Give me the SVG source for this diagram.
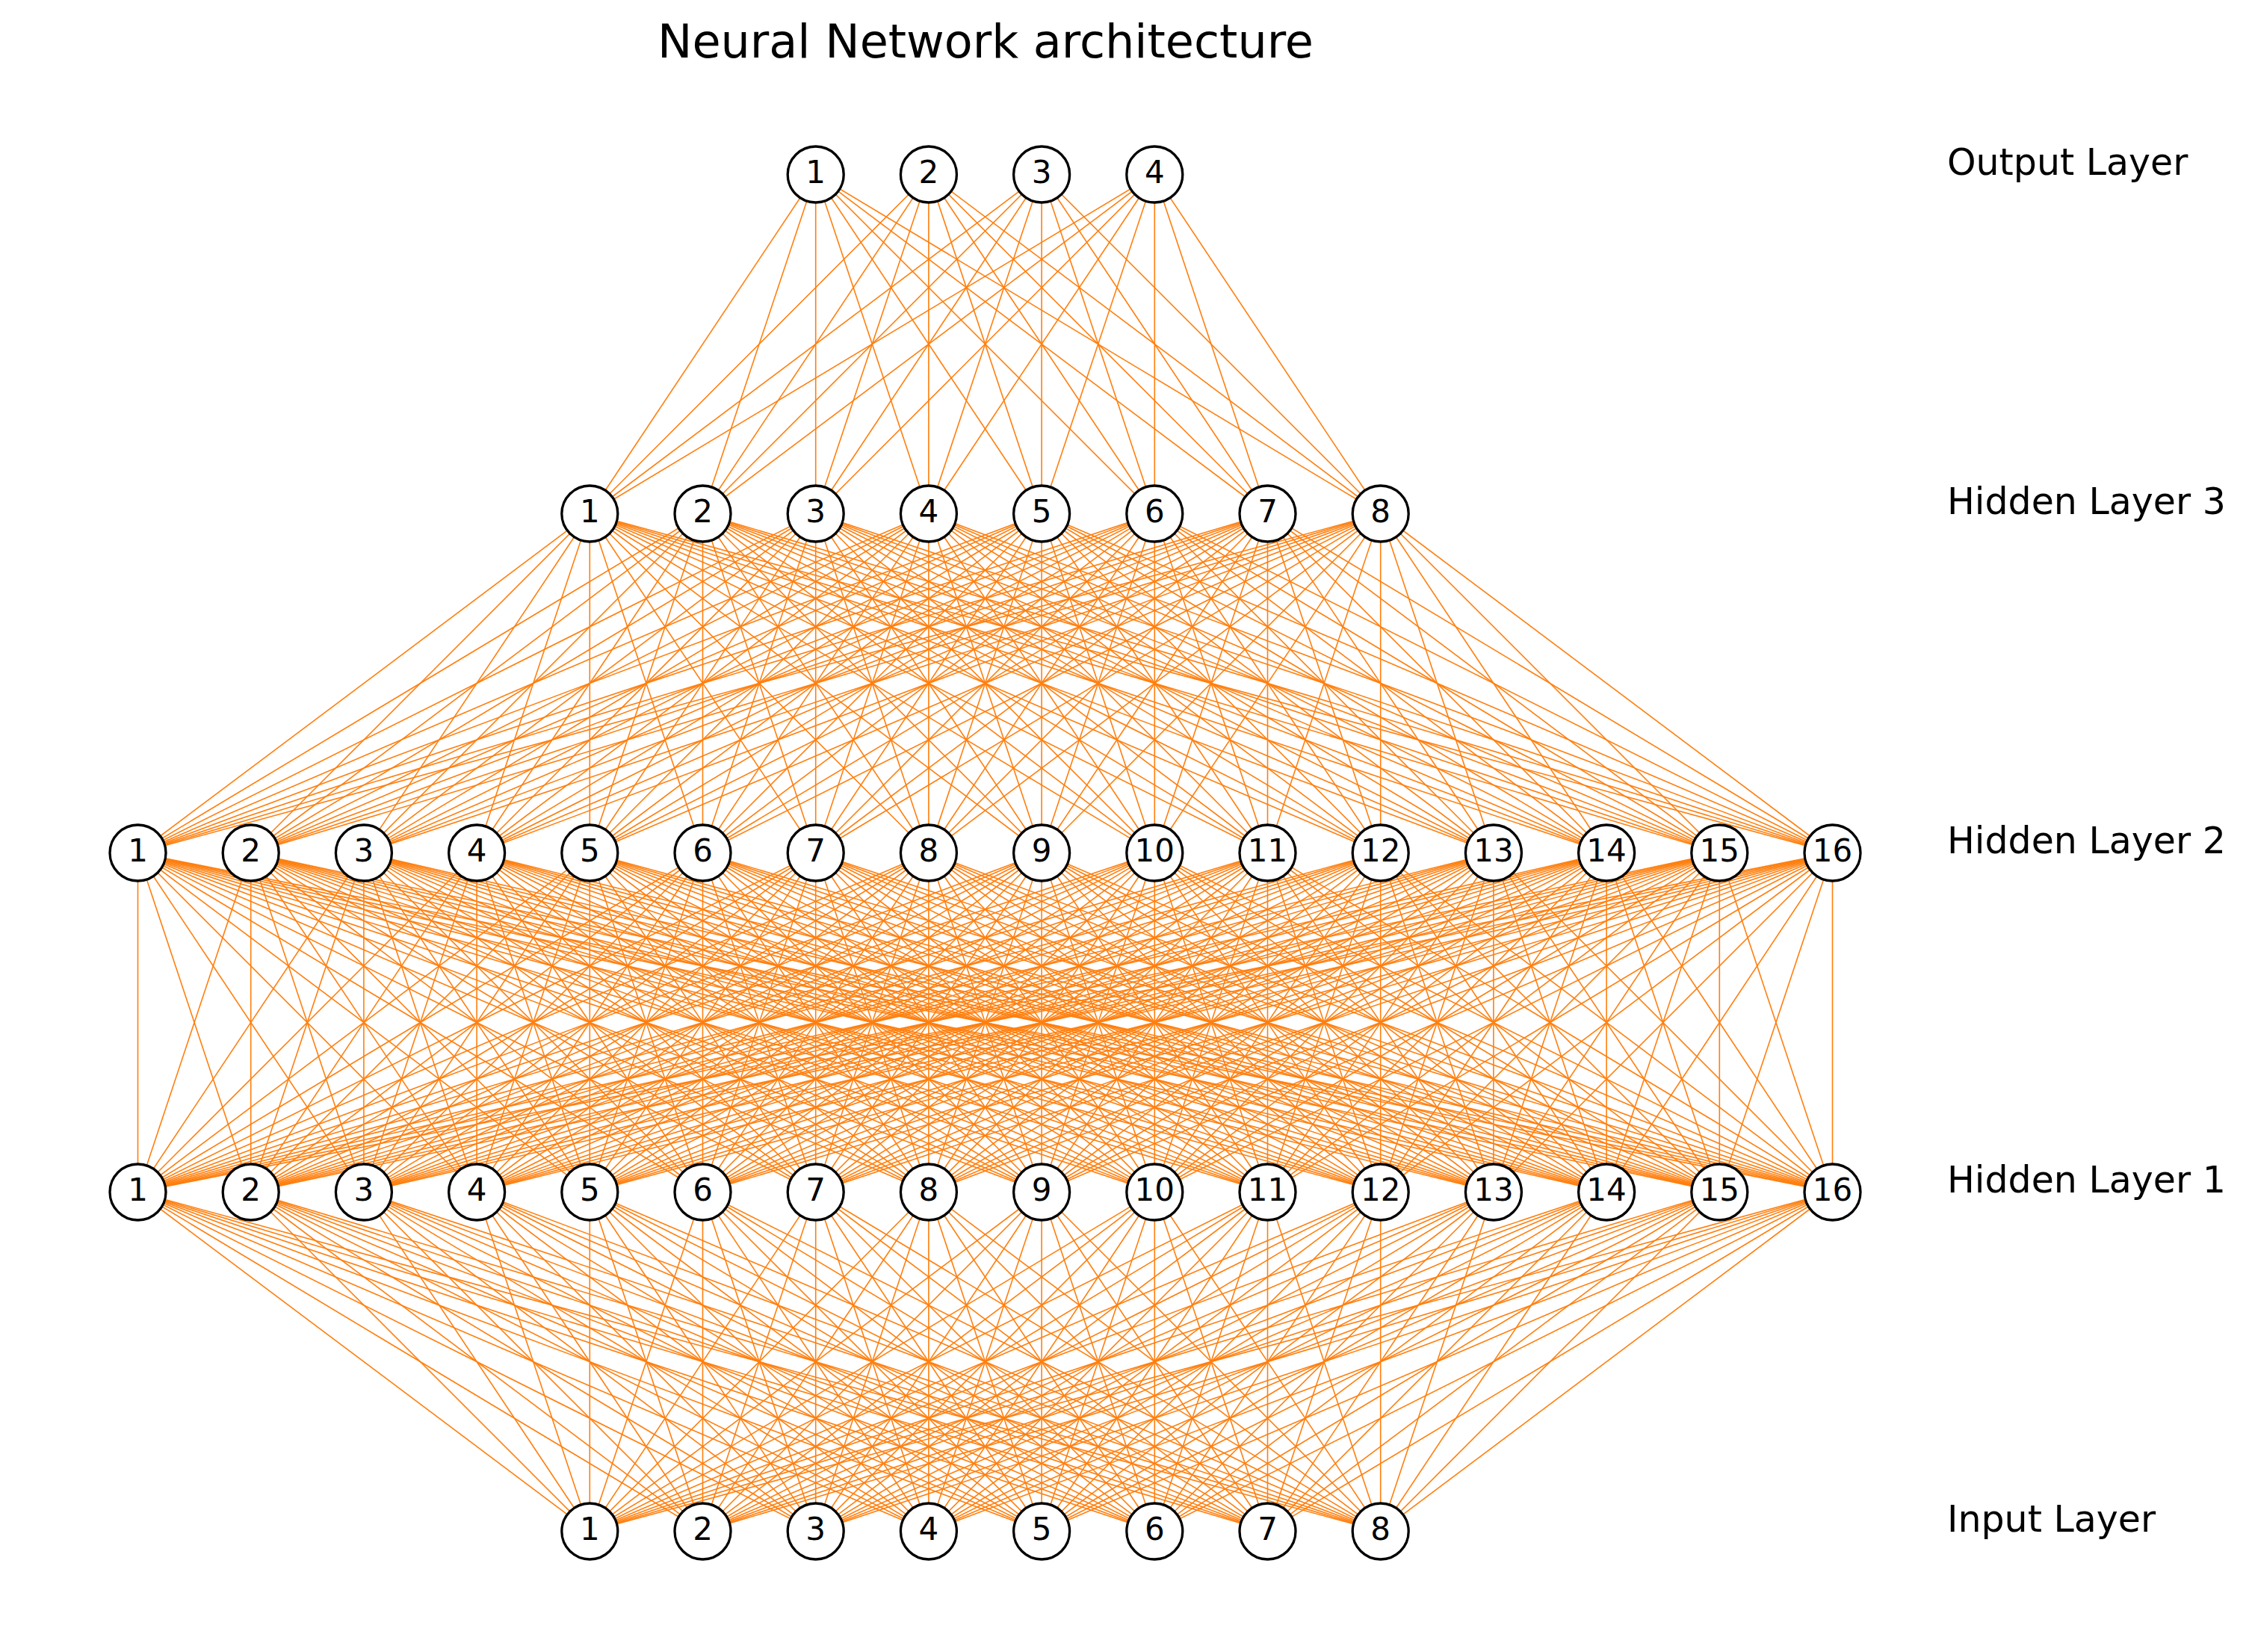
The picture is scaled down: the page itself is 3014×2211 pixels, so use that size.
<svg xmlns="http://www.w3.org/2000/svg" width="3014" height="2211" viewBox="0 0 3014 2211">
<style>
.e path{stroke:#ff7f0e;stroke-width:1.6;fill:none}
.n circle{fill:#fff;stroke:#000;stroke-width:3.3}
.n text{font-family:"DejaVu Sans","Liberation Sans",sans-serif;font-size:42px;text-anchor:middle;fill:#000}
.lbl{font-family:"DejaVu Sans","Liberation Sans",sans-serif;font-size:49px;fill:#000}
.title{font-family:"DejaVu Sans","Liberation Sans",sans-serif;font-size:62px;fill:#000;text-anchor:middle}
</style>
<rect width="3014" height="2211" fill="#fff"/>
<text class="title" x="1319" y="77">Neural Network architecture</text>
<g id="connectors" class="e">
<g id="out-h3">
<path d="M1091.7 233.5L789.3 687.5"/><path d="M1091.7 233.5L940.5 687.5"/><path d="M1091.7 233.5L1091.7 687.5"/><path d="M1091.7 233.5L1242.9 687.5"/><path d="M1091.7 233.5L1394.1 687.5"/><path d="M1091.7 233.5L1545.3 687.5"/><path d="M1091.7 233.5L1696.5 687.5"/><path d="M1091.7 233.5L1847.7 687.5"/>
<path d="M1242.9 233.5L789.3 687.5"/><path d="M1242.9 233.5L940.5 687.5"/><path d="M1242.9 233.5L1091.7 687.5"/><path d="M1242.9 233.5L1242.9 687.5"/><path d="M1242.9 233.5L1394.1 687.5"/><path d="M1242.9 233.5L1545.3 687.5"/><path d="M1242.9 233.5L1696.5 687.5"/><path d="M1242.9 233.5L1847.7 687.5"/>
<path d="M1394.1 233.5L789.3 687.5"/><path d="M1394.1 233.5L940.5 687.5"/><path d="M1394.1 233.5L1091.7 687.5"/><path d="M1394.1 233.5L1242.9 687.5"/><path d="M1394.1 233.5L1394.1 687.5"/><path d="M1394.1 233.5L1545.3 687.5"/><path d="M1394.1 233.5L1696.5 687.5"/><path d="M1394.1 233.5L1847.7 687.5"/>
<path d="M1545.3 233.5L789.3 687.5"/><path d="M1545.3 233.5L940.5 687.5"/><path d="M1545.3 233.5L1091.7 687.5"/><path d="M1545.3 233.5L1242.9 687.5"/><path d="M1545.3 233.5L1394.1 687.5"/><path d="M1545.3 233.5L1545.3 687.5"/><path d="M1545.3 233.5L1696.5 687.5"/><path d="M1545.3 233.5L1847.7 687.5"/>
</g>
<g id="h3-h2">
<path d="M789.3 687.5L184.5 1141.5"/><path d="M789.3 687.5L335.7 1141.5"/><path d="M789.3 687.5L486.9 1141.5"/><path d="M789.3 687.5L638.1 1141.5"/><path d="M789.3 687.5L789.3 1141.5"/><path d="M789.3 687.5L940.5 1141.5"/><path d="M789.3 687.5L1091.7 1141.5"/><path d="M789.3 687.5L1242.9 1141.5"/><path d="M789.3 687.5L1394.1 1141.5"/><path d="M789.3 687.5L1545.3 1141.5"/><path d="M789.3 687.5L1696.5 1141.5"/><path d="M789.3 687.5L1847.7 1141.5"/><path d="M789.3 687.5L1998.9 1141.5"/><path d="M789.3 687.5L2150.1 1141.5"/><path d="M789.3 687.5L2301.3 1141.5"/><path d="M789.3 687.5L2452.5 1141.5"/>
<path d="M940.5 687.5L184.5 1141.5"/><path d="M940.5 687.5L335.7 1141.5"/><path d="M940.5 687.5L486.9 1141.5"/><path d="M940.5 687.5L638.1 1141.5"/><path d="M940.5 687.5L789.3 1141.5"/><path d="M940.5 687.5L940.5 1141.5"/><path d="M940.5 687.5L1091.7 1141.5"/><path d="M940.5 687.5L1242.9 1141.5"/><path d="M940.5 687.5L1394.1 1141.5"/><path d="M940.5 687.5L1545.3 1141.5"/><path d="M940.5 687.5L1696.5 1141.5"/><path d="M940.5 687.5L1847.7 1141.5"/><path d="M940.5 687.5L1998.9 1141.5"/><path d="M940.5 687.5L2150.1 1141.5"/><path d="M940.5 687.5L2301.3 1141.5"/><path d="M940.5 687.5L2452.5 1141.5"/>
<path d="M1091.7 687.5L184.5 1141.5"/><path d="M1091.7 687.5L335.7 1141.5"/><path d="M1091.7 687.5L486.9 1141.5"/><path d="M1091.7 687.5L638.1 1141.5"/><path d="M1091.7 687.5L789.3 1141.5"/><path d="M1091.7 687.5L940.5 1141.5"/><path d="M1091.7 687.5L1091.7 1141.5"/><path d="M1091.7 687.5L1242.9 1141.5"/><path d="M1091.7 687.5L1394.1 1141.5"/><path d="M1091.7 687.5L1545.3 1141.5"/><path d="M1091.7 687.5L1696.5 1141.5"/><path d="M1091.7 687.5L1847.7 1141.5"/><path d="M1091.7 687.5L1998.9 1141.5"/><path d="M1091.7 687.5L2150.1 1141.5"/><path d="M1091.7 687.5L2301.3 1141.5"/><path d="M1091.7 687.5L2452.5 1141.5"/>
<path d="M1242.9 687.5L184.5 1141.5"/><path d="M1242.9 687.5L335.7 1141.5"/><path d="M1242.9 687.5L486.9 1141.5"/><path d="M1242.9 687.5L638.1 1141.5"/><path d="M1242.9 687.5L789.3 1141.5"/><path d="M1242.9 687.5L940.5 1141.5"/><path d="M1242.9 687.5L1091.7 1141.5"/><path d="M1242.9 687.5L1242.9 1141.5"/><path d="M1242.9 687.5L1394.1 1141.5"/><path d="M1242.9 687.5L1545.3 1141.5"/><path d="M1242.9 687.5L1696.5 1141.5"/><path d="M1242.9 687.5L1847.7 1141.5"/><path d="M1242.9 687.5L1998.9 1141.5"/><path d="M1242.9 687.5L2150.1 1141.5"/><path d="M1242.9 687.5L2301.3 1141.5"/><path d="M1242.9 687.5L2452.5 1141.5"/>
<path d="M1394.1 687.5L184.5 1141.5"/><path d="M1394.1 687.5L335.7 1141.5"/><path d="M1394.1 687.5L486.9 1141.5"/><path d="M1394.1 687.5L638.1 1141.5"/><path d="M1394.1 687.5L789.3 1141.5"/><path d="M1394.1 687.5L940.5 1141.5"/><path d="M1394.1 687.5L1091.7 1141.5"/><path d="M1394.1 687.5L1242.9 1141.5"/><path d="M1394.1 687.5L1394.1 1141.5"/><path d="M1394.1 687.5L1545.3 1141.5"/><path d="M1394.1 687.5L1696.5 1141.5"/><path d="M1394.1 687.5L1847.7 1141.5"/><path d="M1394.1 687.5L1998.9 1141.5"/><path d="M1394.1 687.5L2150.1 1141.5"/><path d="M1394.1 687.5L2301.3 1141.5"/><path d="M1394.1 687.5L2452.5 1141.5"/>
<path d="M1545.3 687.5L184.5 1141.5"/><path d="M1545.3 687.5L335.7 1141.5"/><path d="M1545.3 687.5L486.9 1141.5"/><path d="M1545.3 687.5L638.1 1141.5"/><path d="M1545.3 687.5L789.3 1141.5"/><path d="M1545.3 687.5L940.5 1141.5"/><path d="M1545.3 687.5L1091.7 1141.5"/><path d="M1545.3 687.5L1242.9 1141.5"/><path d="M1545.3 687.5L1394.1 1141.5"/><path d="M1545.3 687.5L1545.3 1141.5"/><path d="M1545.3 687.5L1696.5 1141.5"/><path d="M1545.3 687.5L1847.7 1141.5"/><path d="M1545.3 687.5L1998.9 1141.5"/><path d="M1545.3 687.5L2150.1 1141.5"/><path d="M1545.3 687.5L2301.3 1141.5"/><path d="M1545.3 687.5L2452.5 1141.5"/>
<path d="M1696.5 687.5L184.5 1141.5"/><path d="M1696.5 687.5L335.7 1141.5"/><path d="M1696.5 687.5L486.9 1141.5"/><path d="M1696.5 687.5L638.1 1141.5"/><path d="M1696.5 687.5L789.3 1141.5"/><path d="M1696.5 687.5L940.5 1141.5"/><path d="M1696.5 687.5L1091.7 1141.5"/><path d="M1696.5 687.5L1242.9 1141.5"/><path d="M1696.5 687.5L1394.1 1141.5"/><path d="M1696.5 687.5L1545.3 1141.5"/><path d="M1696.5 687.5L1696.5 1141.5"/><path d="M1696.5 687.5L1847.7 1141.5"/><path d="M1696.5 687.5L1998.9 1141.5"/><path d="M1696.5 687.5L2150.1 1141.5"/><path d="M1696.5 687.5L2301.3 1141.5"/><path d="M1696.5 687.5L2452.5 1141.5"/>
<path d="M1847.7 687.5L184.5 1141.5"/><path d="M1847.7 687.5L335.7 1141.5"/><path d="M1847.7 687.5L486.9 1141.5"/><path d="M1847.7 687.5L638.1 1141.5"/><path d="M1847.7 687.5L789.3 1141.5"/><path d="M1847.7 687.5L940.5 1141.5"/><path d="M1847.7 687.5L1091.7 1141.5"/><path d="M1847.7 687.5L1242.9 1141.5"/><path d="M1847.7 687.5L1394.1 1141.5"/><path d="M1847.7 687.5L1545.3 1141.5"/><path d="M1847.7 687.5L1696.5 1141.5"/><path d="M1847.7 687.5L1847.7 1141.5"/><path d="M1847.7 687.5L1998.9 1141.5"/><path d="M1847.7 687.5L2150.1 1141.5"/><path d="M1847.7 687.5L2301.3 1141.5"/><path d="M1847.7 687.5L2452.5 1141.5"/>
</g>
<g id="h2-h1">
<path d="M184.5 1141.5L184.5 1595.5"/><path d="M184.5 1141.5L335.7 1595.5"/><path d="M184.5 1141.5L486.9 1595.5"/><path d="M184.5 1141.5L638.1 1595.5"/><path d="M184.5 1141.5L789.3 1595.5"/><path d="M184.5 1141.5L940.5 1595.5"/><path d="M184.5 1141.5L1091.7 1595.5"/><path d="M184.5 1141.5L1242.9 1595.5"/><path d="M184.5 1141.5L1394.1 1595.5"/><path d="M184.5 1141.5L1545.3 1595.5"/><path d="M184.5 1141.5L1696.5 1595.5"/><path d="M184.5 1141.5L1847.7 1595.5"/><path d="M184.5 1141.5L1998.9 1595.5"/><path d="M184.5 1141.5L2150.1 1595.5"/><path d="M184.5 1141.5L2301.3 1595.5"/><path d="M184.5 1141.5L2452.5 1595.5"/>
<path d="M335.7 1141.5L184.5 1595.5"/><path d="M335.7 1141.5L335.7 1595.5"/><path d="M335.7 1141.5L486.9 1595.5"/><path d="M335.7 1141.5L638.1 1595.5"/><path d="M335.7 1141.5L789.3 1595.5"/><path d="M335.7 1141.5L940.5 1595.5"/><path d="M335.7 1141.5L1091.7 1595.5"/><path d="M335.7 1141.5L1242.9 1595.5"/><path d="M335.7 1141.5L1394.1 1595.5"/><path d="M335.7 1141.5L1545.3 1595.5"/><path d="M335.7 1141.5L1696.5 1595.5"/><path d="M335.7 1141.5L1847.7 1595.5"/><path d="M335.7 1141.5L1998.9 1595.5"/><path d="M335.7 1141.5L2150.1 1595.5"/><path d="M335.7 1141.5L2301.3 1595.5"/><path d="M335.7 1141.5L2452.5 1595.5"/>
<path d="M486.9 1141.5L184.5 1595.5"/><path d="M486.9 1141.5L335.7 1595.5"/><path d="M486.9 1141.5L486.9 1595.5"/><path d="M486.9 1141.5L638.1 1595.5"/><path d="M486.9 1141.5L789.3 1595.5"/><path d="M486.9 1141.5L940.5 1595.5"/><path d="M486.9 1141.5L1091.7 1595.5"/><path d="M486.9 1141.5L1242.9 1595.5"/><path d="M486.9 1141.5L1394.1 1595.5"/><path d="M486.9 1141.5L1545.3 1595.5"/><path d="M486.9 1141.5L1696.5 1595.5"/><path d="M486.9 1141.5L1847.7 1595.5"/><path d="M486.9 1141.5L1998.9 1595.5"/><path d="M486.9 1141.5L2150.1 1595.5"/><path d="M486.9 1141.5L2301.3 1595.5"/><path d="M486.9 1141.5L2452.5 1595.5"/>
<path d="M638.1 1141.5L184.5 1595.5"/><path d="M638.1 1141.5L335.7 1595.5"/><path d="M638.1 1141.5L486.9 1595.5"/><path d="M638.1 1141.5L638.1 1595.5"/><path d="M638.1 1141.5L789.3 1595.5"/><path d="M638.1 1141.5L940.5 1595.5"/><path d="M638.1 1141.5L1091.7 1595.5"/><path d="M638.1 1141.5L1242.9 1595.5"/><path d="M638.1 1141.5L1394.1 1595.5"/><path d="M638.1 1141.5L1545.3 1595.5"/><path d="M638.1 1141.5L1696.5 1595.5"/><path d="M638.1 1141.5L1847.7 1595.5"/><path d="M638.1 1141.5L1998.9 1595.5"/><path d="M638.1 1141.5L2150.1 1595.5"/><path d="M638.1 1141.5L2301.3 1595.5"/><path d="M638.1 1141.5L2452.5 1595.5"/>
<path d="M789.3 1141.5L184.5 1595.5"/><path d="M789.3 1141.5L335.7 1595.5"/><path d="M789.3 1141.5L486.9 1595.5"/><path d="M789.3 1141.5L638.1 1595.5"/><path d="M789.3 1141.5L789.3 1595.5"/><path d="M789.3 1141.5L940.5 1595.5"/><path d="M789.3 1141.5L1091.7 1595.5"/><path d="M789.3 1141.5L1242.9 1595.5"/><path d="M789.3 1141.5L1394.1 1595.5"/><path d="M789.3 1141.5L1545.3 1595.5"/><path d="M789.3 1141.5L1696.5 1595.5"/><path d="M789.3 1141.5L1847.7 1595.5"/><path d="M789.3 1141.5L1998.9 1595.5"/><path d="M789.3 1141.5L2150.1 1595.5"/><path d="M789.3 1141.5L2301.3 1595.5"/><path d="M789.3 1141.5L2452.5 1595.5"/>
<path d="M940.5 1141.5L184.5 1595.5"/><path d="M940.5 1141.5L335.7 1595.5"/><path d="M940.5 1141.5L486.9 1595.5"/><path d="M940.5 1141.5L638.1 1595.5"/><path d="M940.5 1141.5L789.3 1595.5"/><path d="M940.5 1141.5L940.5 1595.5"/><path d="M940.5 1141.5L1091.7 1595.5"/><path d="M940.5 1141.5L1242.9 1595.5"/><path d="M940.5 1141.5L1394.1 1595.5"/><path d="M940.5 1141.5L1545.3 1595.5"/><path d="M940.5 1141.5L1696.5 1595.5"/><path d="M940.5 1141.5L1847.7 1595.5"/><path d="M940.5 1141.5L1998.9 1595.5"/><path d="M940.5 1141.5L2150.1 1595.5"/><path d="M940.5 1141.5L2301.3 1595.5"/><path d="M940.5 1141.5L2452.5 1595.5"/>
<path d="M1091.7 1141.5L184.5 1595.5"/><path d="M1091.7 1141.5L335.7 1595.5"/><path d="M1091.7 1141.5L486.9 1595.5"/><path d="M1091.7 1141.5L638.1 1595.5"/><path d="M1091.7 1141.5L789.3 1595.5"/><path d="M1091.7 1141.5L940.5 1595.5"/><path d="M1091.7 1141.5L1091.7 1595.5"/><path d="M1091.7 1141.5L1242.9 1595.5"/><path d="M1091.7 1141.5L1394.1 1595.5"/><path d="M1091.7 1141.5L1545.3 1595.5"/><path d="M1091.7 1141.5L1696.5 1595.5"/><path d="M1091.7 1141.5L1847.7 1595.5"/><path d="M1091.7 1141.5L1998.9 1595.5"/><path d="M1091.7 1141.5L2150.1 1595.5"/><path d="M1091.7 1141.5L2301.3 1595.5"/><path d="M1091.7 1141.5L2452.5 1595.5"/>
<path d="M1242.9 1141.5L184.5 1595.5"/><path d="M1242.9 1141.5L335.7 1595.5"/><path d="M1242.9 1141.5L486.9 1595.5"/><path d="M1242.9 1141.5L638.1 1595.5"/><path d="M1242.9 1141.5L789.3 1595.5"/><path d="M1242.9 1141.5L940.5 1595.5"/><path d="M1242.9 1141.5L1091.7 1595.5"/><path d="M1242.9 1141.5L1242.9 1595.5"/><path d="M1242.9 1141.5L1394.1 1595.5"/><path d="M1242.9 1141.5L1545.3 1595.5"/><path d="M1242.9 1141.5L1696.5 1595.5"/><path d="M1242.9 1141.5L1847.7 1595.5"/><path d="M1242.9 1141.5L1998.9 1595.5"/><path d="M1242.9 1141.5L2150.1 1595.5"/><path d="M1242.9 1141.5L2301.3 1595.5"/><path d="M1242.9 1141.5L2452.5 1595.5"/>
<path d="M1394.1 1141.5L184.5 1595.5"/><path d="M1394.1 1141.5L335.7 1595.5"/><path d="M1394.1 1141.5L486.9 1595.5"/><path d="M1394.1 1141.5L638.1 1595.5"/><path d="M1394.1 1141.5L789.3 1595.5"/><path d="M1394.1 1141.5L940.5 1595.5"/><path d="M1394.1 1141.5L1091.7 1595.5"/><path d="M1394.1 1141.5L1242.9 1595.5"/><path d="M1394.1 1141.5L1394.1 1595.5"/><path d="M1394.1 1141.5L1545.3 1595.5"/><path d="M1394.1 1141.5L1696.5 1595.5"/><path d="M1394.1 1141.5L1847.7 1595.5"/><path d="M1394.1 1141.5L1998.9 1595.5"/><path d="M1394.1 1141.5L2150.1 1595.5"/><path d="M1394.1 1141.5L2301.3 1595.5"/><path d="M1394.1 1141.5L2452.5 1595.5"/>
<path d="M1545.3 1141.5L184.5 1595.5"/><path d="M1545.3 1141.5L335.7 1595.5"/><path d="M1545.3 1141.5L486.9 1595.5"/><path d="M1545.3 1141.5L638.1 1595.5"/><path d="M1545.3 1141.5L789.3 1595.5"/><path d="M1545.3 1141.5L940.5 1595.5"/><path d="M1545.3 1141.5L1091.7 1595.5"/><path d="M1545.3 1141.5L1242.9 1595.5"/><path d="M1545.3 1141.5L1394.1 1595.5"/><path d="M1545.3 1141.5L1545.3 1595.5"/><path d="M1545.3 1141.5L1696.5 1595.5"/><path d="M1545.3 1141.5L1847.7 1595.5"/><path d="M1545.3 1141.5L1998.9 1595.5"/><path d="M1545.3 1141.5L2150.1 1595.5"/><path d="M1545.3 1141.5L2301.3 1595.5"/><path d="M1545.3 1141.5L2452.5 1595.5"/>
<path d="M1696.5 1141.5L184.5 1595.5"/><path d="M1696.5 1141.5L335.7 1595.5"/><path d="M1696.5 1141.5L486.9 1595.5"/><path d="M1696.5 1141.5L638.1 1595.5"/><path d="M1696.5 1141.5L789.3 1595.5"/><path d="M1696.5 1141.5L940.5 1595.5"/><path d="M1696.5 1141.5L1091.7 1595.5"/><path d="M1696.5 1141.5L1242.9 1595.5"/><path d="M1696.5 1141.5L1394.1 1595.5"/><path d="M1696.5 1141.5L1545.3 1595.5"/><path d="M1696.5 1141.5L1696.5 1595.5"/><path d="M1696.5 1141.5L1847.7 1595.5"/><path d="M1696.5 1141.5L1998.9 1595.5"/><path d="M1696.5 1141.5L2150.1 1595.5"/><path d="M1696.5 1141.5L2301.3 1595.5"/><path d="M1696.5 1141.5L2452.5 1595.5"/>
<path d="M1847.7 1141.5L184.5 1595.5"/><path d="M1847.7 1141.5L335.7 1595.5"/><path d="M1847.7 1141.5L486.9 1595.5"/><path d="M1847.7 1141.5L638.1 1595.5"/><path d="M1847.7 1141.5L789.3 1595.5"/><path d="M1847.7 1141.5L940.5 1595.5"/><path d="M1847.7 1141.5L1091.7 1595.5"/><path d="M1847.7 1141.5L1242.9 1595.5"/><path d="M1847.7 1141.5L1394.1 1595.5"/><path d="M1847.7 1141.5L1545.3 1595.5"/><path d="M1847.7 1141.5L1696.5 1595.5"/><path d="M1847.7 1141.5L1847.7 1595.5"/><path d="M1847.7 1141.5L1998.9 1595.5"/><path d="M1847.7 1141.5L2150.1 1595.5"/><path d="M1847.7 1141.5L2301.3 1595.5"/><path d="M1847.7 1141.5L2452.5 1595.5"/>
<path d="M1998.9 1141.5L184.5 1595.5"/><path d="M1998.9 1141.5L335.7 1595.5"/><path d="M1998.9 1141.5L486.9 1595.5"/><path d="M1998.9 1141.5L638.1 1595.5"/><path d="M1998.9 1141.5L789.3 1595.5"/><path d="M1998.9 1141.5L940.5 1595.5"/><path d="M1998.9 1141.5L1091.7 1595.5"/><path d="M1998.9 1141.5L1242.9 1595.5"/><path d="M1998.9 1141.5L1394.1 1595.5"/><path d="M1998.9 1141.5L1545.3 1595.5"/><path d="M1998.9 1141.5L1696.5 1595.5"/><path d="M1998.9 1141.5L1847.7 1595.5"/><path d="M1998.9 1141.5L1998.9 1595.5"/><path d="M1998.9 1141.5L2150.1 1595.5"/><path d="M1998.9 1141.5L2301.3 1595.5"/><path d="M1998.9 1141.5L2452.5 1595.5"/>
<path d="M2150.1 1141.5L184.5 1595.5"/><path d="M2150.1 1141.5L335.7 1595.5"/><path d="M2150.1 1141.5L486.9 1595.5"/><path d="M2150.1 1141.5L638.1 1595.5"/><path d="M2150.1 1141.5L789.3 1595.5"/><path d="M2150.1 1141.5L940.5 1595.5"/><path d="M2150.1 1141.5L1091.7 1595.5"/><path d="M2150.1 1141.5L1242.9 1595.5"/><path d="M2150.1 1141.5L1394.1 1595.5"/><path d="M2150.1 1141.5L1545.3 1595.5"/><path d="M2150.1 1141.5L1696.5 1595.5"/><path d="M2150.1 1141.5L1847.7 1595.5"/><path d="M2150.1 1141.5L1998.9 1595.5"/><path d="M2150.1 1141.5L2150.1 1595.5"/><path d="M2150.1 1141.5L2301.3 1595.5"/><path d="M2150.1 1141.5L2452.5 1595.5"/>
<path d="M2301.3 1141.5L184.5 1595.5"/><path d="M2301.3 1141.5L335.7 1595.5"/><path d="M2301.3 1141.5L486.9 1595.5"/><path d="M2301.3 1141.5L638.1 1595.5"/><path d="M2301.3 1141.5L789.3 1595.5"/><path d="M2301.3 1141.5L940.5 1595.5"/><path d="M2301.3 1141.5L1091.7 1595.5"/><path d="M2301.3 1141.5L1242.9 1595.5"/><path d="M2301.3 1141.5L1394.1 1595.5"/><path d="M2301.3 1141.5L1545.3 1595.5"/><path d="M2301.3 1141.5L1696.5 1595.5"/><path d="M2301.3 1141.5L1847.7 1595.5"/><path d="M2301.3 1141.5L1998.9 1595.5"/><path d="M2301.3 1141.5L2150.1 1595.5"/><path d="M2301.3 1141.5L2301.3 1595.5"/><path d="M2301.3 1141.5L2452.5 1595.5"/>
<path d="M2452.5 1141.5L184.5 1595.5"/><path d="M2452.5 1141.5L335.7 1595.5"/><path d="M2452.5 1141.5L486.9 1595.5"/><path d="M2452.5 1141.5L638.1 1595.5"/><path d="M2452.5 1141.5L789.3 1595.5"/><path d="M2452.5 1141.5L940.5 1595.5"/><path d="M2452.5 1141.5L1091.7 1595.5"/><path d="M2452.5 1141.5L1242.9 1595.5"/><path d="M2452.5 1141.5L1394.1 1595.5"/><path d="M2452.5 1141.5L1545.3 1595.5"/><path d="M2452.5 1141.5L1696.5 1595.5"/><path d="M2452.5 1141.5L1847.7 1595.5"/><path d="M2452.5 1141.5L1998.9 1595.5"/><path d="M2452.5 1141.5L2150.1 1595.5"/><path d="M2452.5 1141.5L2301.3 1595.5"/><path d="M2452.5 1141.5L2452.5 1595.5"/>
</g>
<g id="h1-in">
<path d="M184.5 1595.5L789.3 2049.5"/><path d="M184.5 1595.5L940.5 2049.5"/><path d="M184.5 1595.5L1091.7 2049.5"/><path d="M184.5 1595.5L1242.9 2049.5"/><path d="M184.5 1595.5L1394.1 2049.5"/><path d="M184.5 1595.5L1545.3 2049.5"/><path d="M184.5 1595.5L1696.5 2049.5"/><path d="M184.5 1595.5L1847.7 2049.5"/>
<path d="M335.7 1595.5L789.3 2049.5"/><path d="M335.7 1595.5L940.5 2049.5"/><path d="M335.7 1595.5L1091.7 2049.5"/><path d="M335.7 1595.5L1242.9 2049.5"/><path d="M335.7 1595.5L1394.1 2049.5"/><path d="M335.7 1595.5L1545.3 2049.5"/><path d="M335.7 1595.5L1696.5 2049.5"/><path d="M335.7 1595.5L1847.7 2049.5"/>
<path d="M486.9 1595.5L789.3 2049.5"/><path d="M486.9 1595.5L940.5 2049.5"/><path d="M486.9 1595.5L1091.7 2049.5"/><path d="M486.9 1595.5L1242.9 2049.5"/><path d="M486.9 1595.5L1394.1 2049.5"/><path d="M486.9 1595.5L1545.3 2049.5"/><path d="M486.9 1595.5L1696.5 2049.5"/><path d="M486.9 1595.5L1847.7 2049.5"/>
<path d="M638.1 1595.5L789.3 2049.5"/><path d="M638.1 1595.5L940.5 2049.5"/><path d="M638.1 1595.5L1091.7 2049.5"/><path d="M638.1 1595.5L1242.9 2049.5"/><path d="M638.1 1595.5L1394.1 2049.5"/><path d="M638.1 1595.5L1545.3 2049.5"/><path d="M638.1 1595.5L1696.5 2049.5"/><path d="M638.1 1595.5L1847.7 2049.5"/>
<path d="M789.3 1595.5L789.3 2049.5"/><path d="M789.3 1595.5L940.5 2049.5"/><path d="M789.3 1595.5L1091.7 2049.5"/><path d="M789.3 1595.5L1242.9 2049.5"/><path d="M789.3 1595.5L1394.1 2049.5"/><path d="M789.3 1595.5L1545.3 2049.5"/><path d="M789.3 1595.5L1696.5 2049.5"/><path d="M789.3 1595.5L1847.7 2049.5"/>
<path d="M940.5 1595.5L789.3 2049.5"/><path d="M940.5 1595.5L940.5 2049.5"/><path d="M940.5 1595.5L1091.7 2049.5"/><path d="M940.5 1595.5L1242.9 2049.5"/><path d="M940.5 1595.5L1394.1 2049.5"/><path d="M940.5 1595.5L1545.3 2049.5"/><path d="M940.5 1595.5L1696.5 2049.5"/><path d="M940.5 1595.5L1847.7 2049.5"/>
<path d="M1091.7 1595.5L789.3 2049.5"/><path d="M1091.7 1595.5L940.5 2049.5"/><path d="M1091.7 1595.5L1091.7 2049.5"/><path d="M1091.7 1595.5L1242.9 2049.5"/><path d="M1091.7 1595.5L1394.1 2049.5"/><path d="M1091.7 1595.5L1545.3 2049.5"/><path d="M1091.7 1595.5L1696.5 2049.5"/><path d="M1091.7 1595.5L1847.7 2049.5"/>
<path d="M1242.9 1595.5L789.3 2049.5"/><path d="M1242.9 1595.5L940.5 2049.5"/><path d="M1242.9 1595.5L1091.7 2049.5"/><path d="M1242.9 1595.5L1242.9 2049.5"/><path d="M1242.9 1595.5L1394.1 2049.5"/><path d="M1242.9 1595.5L1545.3 2049.5"/><path d="M1242.9 1595.5L1696.5 2049.5"/><path d="M1242.9 1595.5L1847.7 2049.5"/>
<path d="M1394.1 1595.5L789.3 2049.5"/><path d="M1394.1 1595.5L940.5 2049.5"/><path d="M1394.1 1595.5L1091.7 2049.5"/><path d="M1394.1 1595.5L1242.9 2049.5"/><path d="M1394.1 1595.5L1394.1 2049.5"/><path d="M1394.1 1595.5L1545.3 2049.5"/><path d="M1394.1 1595.5L1696.5 2049.5"/><path d="M1394.1 1595.5L1847.7 2049.5"/>
<path d="M1545.3 1595.5L789.3 2049.5"/><path d="M1545.3 1595.5L940.5 2049.5"/><path d="M1545.3 1595.5L1091.7 2049.5"/><path d="M1545.3 1595.5L1242.9 2049.5"/><path d="M1545.3 1595.5L1394.1 2049.5"/><path d="M1545.3 1595.5L1545.3 2049.5"/><path d="M1545.3 1595.5L1696.5 2049.5"/><path d="M1545.3 1595.5L1847.7 2049.5"/>
<path d="M1696.5 1595.5L789.3 2049.5"/><path d="M1696.5 1595.5L940.5 2049.5"/><path d="M1696.5 1595.5L1091.7 2049.5"/><path d="M1696.5 1595.5L1242.9 2049.5"/><path d="M1696.5 1595.5L1394.1 2049.5"/><path d="M1696.5 1595.5L1545.3 2049.5"/><path d="M1696.5 1595.5L1696.5 2049.5"/><path d="M1696.5 1595.5L1847.7 2049.5"/>
<path d="M1847.7 1595.5L789.3 2049.5"/><path d="M1847.7 1595.5L940.5 2049.5"/><path d="M1847.7 1595.5L1091.7 2049.5"/><path d="M1847.7 1595.5L1242.9 2049.5"/><path d="M1847.7 1595.5L1394.1 2049.5"/><path d="M1847.7 1595.5L1545.3 2049.5"/><path d="M1847.7 1595.5L1696.5 2049.5"/><path d="M1847.7 1595.5L1847.7 2049.5"/>
<path d="M1998.9 1595.5L789.3 2049.5"/><path d="M1998.9 1595.5L940.5 2049.5"/><path d="M1998.9 1595.5L1091.7 2049.5"/><path d="M1998.9 1595.5L1242.9 2049.5"/><path d="M1998.9 1595.5L1394.1 2049.5"/><path d="M1998.9 1595.5L1545.3 2049.5"/><path d="M1998.9 1595.5L1696.5 2049.5"/><path d="M1998.9 1595.5L1847.7 2049.5"/>
<path d="M2150.1 1595.5L789.3 2049.5"/><path d="M2150.1 1595.5L940.5 2049.5"/><path d="M2150.1 1595.5L1091.7 2049.5"/><path d="M2150.1 1595.5L1242.9 2049.5"/><path d="M2150.1 1595.5L1394.1 2049.5"/><path d="M2150.1 1595.5L1545.3 2049.5"/><path d="M2150.1 1595.5L1696.5 2049.5"/><path d="M2150.1 1595.5L1847.7 2049.5"/>
<path d="M2301.3 1595.5L789.3 2049.5"/><path d="M2301.3 1595.5L940.5 2049.5"/><path d="M2301.3 1595.5L1091.7 2049.5"/><path d="M2301.3 1595.5L1242.9 2049.5"/><path d="M2301.3 1595.5L1394.1 2049.5"/><path d="M2301.3 1595.5L1545.3 2049.5"/><path d="M2301.3 1595.5L1696.5 2049.5"/><path d="M2301.3 1595.5L1847.7 2049.5"/>
<path d="M2452.5 1595.5L789.3 2049.5"/><path d="M2452.5 1595.5L940.5 2049.5"/><path d="M2452.5 1595.5L1091.7 2049.5"/><path d="M2452.5 1595.5L1242.9 2049.5"/><path d="M2452.5 1595.5L1394.1 2049.5"/><path d="M2452.5 1595.5L1545.3 2049.5"/><path d="M2452.5 1595.5L1696.5 2049.5"/><path d="M2452.5 1595.5L1847.7 2049.5"/>
</g>
</g>
<g id="nodes" class="n">
<g id="out-1"><circle cx="1091.7" cy="233.5" r="37.5"/><text x="1091.7" y="244.5">1</text></g>
<g id="out-2"><circle cx="1242.9" cy="233.5" r="37.5"/><text x="1242.9" y="244.5">2</text></g>
<g id="out-3"><circle cx="1394.1" cy="233.5" r="37.5"/><text x="1394.1" y="244.5">3</text></g>
<g id="out-4"><circle cx="1545.3" cy="233.5" r="37.5"/><text x="1545.3" y="244.5">4</text></g>
<g id="h3-1"><circle cx="789.3" cy="687.5" r="37.5"/><text x="789.3" y="698.5">1</text></g>
<g id="h3-2"><circle cx="940.5" cy="687.5" r="37.5"/><text x="940.5" y="698.5">2</text></g>
<g id="h3-3"><circle cx="1091.7" cy="687.5" r="37.5"/><text x="1091.7" y="698.5">3</text></g>
<g id="h3-4"><circle cx="1242.9" cy="687.5" r="37.5"/><text x="1242.9" y="698.5">4</text></g>
<g id="h3-5"><circle cx="1394.1" cy="687.5" r="37.5"/><text x="1394.1" y="698.5">5</text></g>
<g id="h3-6"><circle cx="1545.3" cy="687.5" r="37.5"/><text x="1545.3" y="698.5">6</text></g>
<g id="h3-7"><circle cx="1696.5" cy="687.5" r="37.5"/><text x="1696.5" y="698.5">7</text></g>
<g id="h3-8"><circle cx="1847.7" cy="687.5" r="37.5"/><text x="1847.7" y="698.5">8</text></g>
<g id="h2-1"><circle cx="184.5" cy="1141.5" r="37.5"/><text x="184.5" y="1152.5">1</text></g>
<g id="h2-2"><circle cx="335.7" cy="1141.5" r="37.5"/><text x="335.7" y="1152.5">2</text></g>
<g id="h2-3"><circle cx="486.9" cy="1141.5" r="37.5"/><text x="486.9" y="1152.5">3</text></g>
<g id="h2-4"><circle cx="638.1" cy="1141.5" r="37.5"/><text x="638.1" y="1152.5">4</text></g>
<g id="h2-5"><circle cx="789.3" cy="1141.5" r="37.5"/><text x="789.3" y="1152.5">5</text></g>
<g id="h2-6"><circle cx="940.5" cy="1141.5" r="37.5"/><text x="940.5" y="1152.5">6</text></g>
<g id="h2-7"><circle cx="1091.7" cy="1141.5" r="37.5"/><text x="1091.7" y="1152.5">7</text></g>
<g id="h2-8"><circle cx="1242.9" cy="1141.5" r="37.5"/><text x="1242.9" y="1152.5">8</text></g>
<g id="h2-9"><circle cx="1394.1" cy="1141.5" r="37.5"/><text x="1394.1" y="1152.5">9</text></g>
<g id="h2-10"><circle cx="1545.3" cy="1141.5" r="37.5"/><text x="1545.3" y="1152.5">10</text></g>
<g id="h2-11"><circle cx="1696.5" cy="1141.5" r="37.5"/><text x="1696.5" y="1152.5">11</text></g>
<g id="h2-12"><circle cx="1847.7" cy="1141.5" r="37.5"/><text x="1847.7" y="1152.5">12</text></g>
<g id="h2-13"><circle cx="1998.9" cy="1141.5" r="37.5"/><text x="1998.9" y="1152.5">13</text></g>
<g id="h2-14"><circle cx="2150.1" cy="1141.5" r="37.5"/><text x="2150.1" y="1152.5">14</text></g>
<g id="h2-15"><circle cx="2301.3" cy="1141.5" r="37.5"/><text x="2301.3" y="1152.5">15</text></g>
<g id="h2-16"><circle cx="2452.5" cy="1141.5" r="37.5"/><text x="2452.5" y="1152.5">16</text></g>
<g id="h1-1"><circle cx="184.5" cy="1595.5" r="37.5"/><text x="184.5" y="1606.5">1</text></g>
<g id="h1-2"><circle cx="335.7" cy="1595.5" r="37.5"/><text x="335.7" y="1606.5">2</text></g>
<g id="h1-3"><circle cx="486.9" cy="1595.5" r="37.5"/><text x="486.9" y="1606.5">3</text></g>
<g id="h1-4"><circle cx="638.1" cy="1595.5" r="37.5"/><text x="638.1" y="1606.5">4</text></g>
<g id="h1-5"><circle cx="789.3" cy="1595.5" r="37.5"/><text x="789.3" y="1606.5">5</text></g>
<g id="h1-6"><circle cx="940.5" cy="1595.5" r="37.5"/><text x="940.5" y="1606.5">6</text></g>
<g id="h1-7"><circle cx="1091.7" cy="1595.5" r="37.5"/><text x="1091.7" y="1606.5">7</text></g>
<g id="h1-8"><circle cx="1242.9" cy="1595.5" r="37.5"/><text x="1242.9" y="1606.5">8</text></g>
<g id="h1-9"><circle cx="1394.1" cy="1595.5" r="37.5"/><text x="1394.1" y="1606.5">9</text></g>
<g id="h1-10"><circle cx="1545.3" cy="1595.5" r="37.5"/><text x="1545.3" y="1606.5">10</text></g>
<g id="h1-11"><circle cx="1696.5" cy="1595.5" r="37.5"/><text x="1696.5" y="1606.5">11</text></g>
<g id="h1-12"><circle cx="1847.7" cy="1595.5" r="37.5"/><text x="1847.7" y="1606.5">12</text></g>
<g id="h1-13"><circle cx="1998.9" cy="1595.5" r="37.5"/><text x="1998.9" y="1606.5">13</text></g>
<g id="h1-14"><circle cx="2150.1" cy="1595.5" r="37.5"/><text x="2150.1" y="1606.5">14</text></g>
<g id="h1-15"><circle cx="2301.3" cy="1595.5" r="37.5"/><text x="2301.3" y="1606.5">15</text></g>
<g id="h1-16"><circle cx="2452.5" cy="1595.5" r="37.5"/><text x="2452.5" y="1606.5">16</text></g>
<g id="in-1"><circle cx="789.3" cy="2049.5" r="37.5"/><text x="789.3" y="2060.5">1</text></g>
<g id="in-2"><circle cx="940.5" cy="2049.5" r="37.5"/><text x="940.5" y="2060.5">2</text></g>
<g id="in-3"><circle cx="1091.7" cy="2049.5" r="37.5"/><text x="1091.7" y="2060.5">3</text></g>
<g id="in-4"><circle cx="1242.9" cy="2049.5" r="37.5"/><text x="1242.9" y="2060.5">4</text></g>
<g id="in-5"><circle cx="1394.1" cy="2049.5" r="37.5"/><text x="1394.1" y="2060.5">5</text></g>
<g id="in-6"><circle cx="1545.3" cy="2049.5" r="37.5"/><text x="1545.3" y="2060.5">6</text></g>
<g id="in-7"><circle cx="1696.5" cy="2049.5" r="37.5"/><text x="1696.5" y="2060.5">7</text></g>
<g id="in-8"><circle cx="1847.7" cy="2049.5" r="37.5"/><text x="1847.7" y="2060.5">8</text></g>
</g>
<g id="layer-labels">
<text class="lbl" x="2606" y="233.5">Output Layer</text>
<text class="lbl" x="2606" y="687.5">Hidden Layer 3</text>
<text class="lbl" x="2606" y="1141.5">Hidden Layer 2</text>
<text class="lbl" x="2606" y="1595.5">Hidden Layer 1</text>
<text class="lbl" x="2606" y="2049.5">Input Layer</text>
</g>
</svg>
